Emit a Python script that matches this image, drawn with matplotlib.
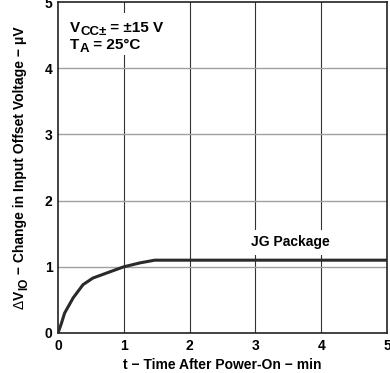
import matplotlib
matplotlib.use('Agg')
import matplotlib.pyplot as plt
from matplotlib.transforms import IdentityTransform

plt.rcParams['font.family'] = ['Liberation Sans', 'DejaVu Sans']
plt.rcParams['font.weight'] = 'bold'

# data
t_min = [0, 0.05, 0.1, 0.23, 0.38, 0.53, 0.75, 1.0, 1.25, 1.47, 2.0, 3.0, 4.0, 5.0]
dvio = [0, 0.14, 0.3, 0.53, 0.73, 0.83, 0.91, 1.0, 1.06, 1.1, 1.1, 1.1, 1.1, 1.1]
xticks = [0, 1, 2, 3, 4, 5]
yticks = [0, 1, 2, 3, 4, 5]

W, H = 390, 373
fig = plt.figure(figsize=(3.9, 3.73), dpi=100)
ax = fig.add_axes([58/W, 40/H, 329/W, 331/H])

for v in xticks[1:-1]:
    ax.axvline(v, color='#333333', lw=0.8, zorder=1)
for v in yticks[1:-1]:
    ax.axhline(v, color='#a0a0a0', lw=1.0, zorder=1)

ax.plot(t_min, dvio, color='#2a2a2a', lw=2.2, zorder=3, solid_capstyle='round')

ax.set_xlim(0, 5)
ax.set_ylim(0, 5)
ax.set_xticks(xticks)
ax.set_yticks(yticks)
ax.tick_params(length=0, labelsize=10, pad=4)
for s in ax.spines.values():
    s.set_color('#222222')
    s.set_linewidth(1.2)

ax.set_xlabel('t − Time After Power-On − min', fontsize=10, fontweight='bold', labelpad=4)

fig.canvas.draw()
rend = fig.canvas.get_renderer()


def pieces_width(pieces, rot):
    tot = 0
    for s, size, dy, wt in pieces:
        t = fig.text(0, 0, s, fontsize=size, fontweight=wt, transform=IdentityTransform())
        tot += t.get_window_extent(rend).width
        t.remove()
    return tot


def put(x, y, pieces, rot=False, **kw):
    # x, y in pixels from bottom-left; pieces: (text, size, drop px, weight)
    for s, size, dy, wt in pieces:
        if rot:
            t = fig.text(x + dy, y, s, fontsize=size, fontweight=wt, rotation=90,
                         ha='left', va='baseline', rotation_mode='anchor',
                         transform=IdentityTransform(), **kw)
            y += t.get_window_extent(rend).height
        else:
            t = fig.text(x, y - dy, s, fontsize=size, fontweight=wt,
                         ha='left', va='baseline', transform=IdentityTransform(), **kw)
            x += t.get_window_extent(rend).width


# y label with subscript
ylab = [('Δ', 10, 0, 'normal'), ('V', 10, 0, 'bold'), ('IO', 8.5, 3, 'bold'),
        (' − Change in Input Offset Voltage − μV', 10, 0, 'bold')]
L = pieces_width(ylab, True)
put(24, (H - 167.5) - L / 2, ylab, rot=True)

# condition box
box = plt.Rectangle((63, H - 55), 112, 42, transform=IdentityTransform(),
                    facecolor='white', edgecolor='none', zorder=2)
fig.patches.append(box)
put(70, H - 32, [('V', 11, 0, 'bold'), ('CC±', 9.5, 3, 'bold'), (' = ±15 V', 11, 0, 'bold')], zorder=4)
put(70, H - 49, [('T', 11, 0, 'bold'), ('A', 9.5, 3, 'bold'), (' = 25°C', 11, 0, 'bold')], zorder=4)

ax.text(3.53, 1.37, 'JG Package', fontsize=10, fontweight='bold', ha='center', va='center',
        zorder=4, bbox=dict(facecolor='white', edgecolor='none', pad=4))

fig.savefig('out.png', dpi=100)
